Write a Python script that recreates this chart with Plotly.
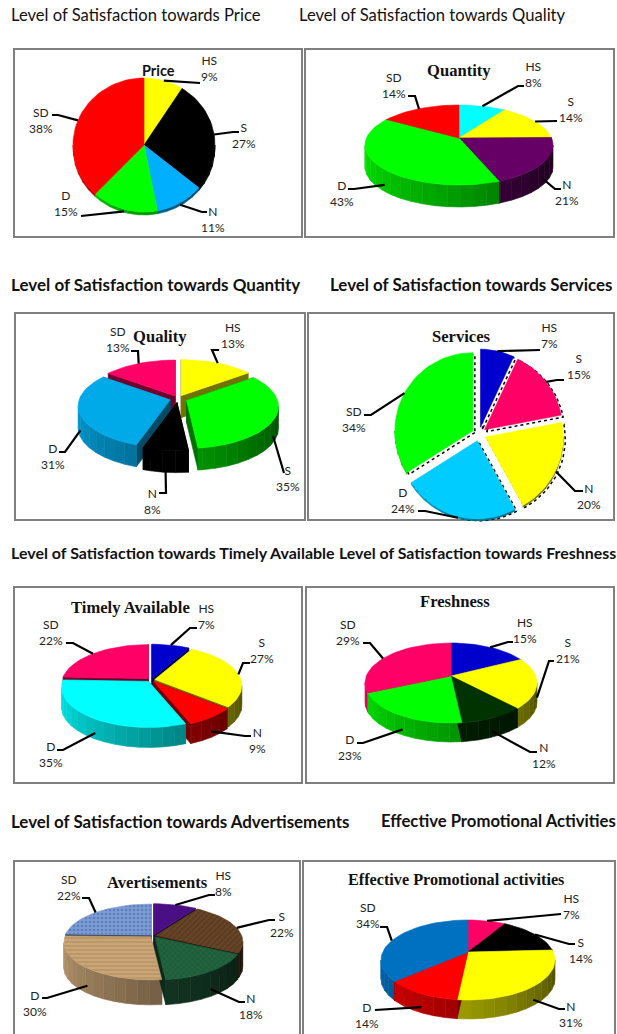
import math
import plotly.graph_objects as go

categories = ["HS", "S", "N", "D", "SD"]

price = [9, 27, 11, 15, 38]
quantity = [8, 14, 21, 43, 14]
quality = [13, 35, 8, 31, 13]
services = [7, 15, 20, 24, 34]
timely = [7, 27, 9, 35, 22]
freshness = [15, 21, 12, 23, 29]
advertisements = [8, 22, 18, 30, 22]
promotional = [7, 14, 31, 14, 34]

section_titles = [
    ("Level of Satisfaction towards Price", 9, 15, False, 16.6),
    ("Level of Satisfaction towards Quality", 297, 15, False, 16.6),
    ("Level of Satisfaction towards Quantity", 9, 284, True, 17),
    ("Level of Satisfaction towards Services", 328, 284, True, 16.9),
    ("Level of Satisfaction towards Timely Available", 9, 552, True, 16),
    ("Level of Satisfaction towards Freshness", 337, 552, True, 15.9),
    ("Level of Satisfaction towards Advertisements", 9, 821, True, 16.9),
    ("Effective Promotional Activities", 379, 821, True, 16.7),
]

frames = [(14, 49, 302, 237), (305, 49, 614, 237), (15, 313, 305, 520), (308, 313, 614, 520),
          (14, 587, 302, 783), (306, 587, 614, 783), (14, 861, 300, 1040), (303, 861, 615, 1040)]

Y, K, R, G, P = "#ffff00", "#000000", "#ff0000", "#00ff00", "#ff0066"
charts = [
    dict(title="Price", title_font=("Lato", 14.5), values=price, tx=158, ty=70, cx=144, cy=145, rx=71, ry=67, vs=0, depth=3,
         colors=[Y, K, "#00b0ff", G, R], explode=[0, 0, 0, 0, 0],
         labels=[(209, 68), (244, 135), (213, 219), (66, 203), (41, 120)],
         leads=[(196, 83, 200, 83), (233, 132, 239, 132), (202, 212, 207, 212), (87, 215, 81, 216), (58, 115, 52, 115)]),
    dict(title="Quantity", values=quantity, tx=459, ty=70, cx=459, cy=145, rx=94, ry=40, vs=-7, depth=22,
         colors=["#00ffff", Y, "#660066", G, R], explode=[0, 0, 0, 0, 0],
         labels=[(533, 74), (571, 109), (567, 192), (342, 193), (394, 85)],
         leads=[(518, 86, 524, 86), (551, 121, 557, 121), (555, 189, 561, 189), (354, 189, 348, 189), (415, 96, 408, 96)]),
    dict(title="Quality", values=quality, tx=160, ty=336, cx=178, cy=405, rx=92, ry=42, vs=-6, depth=22,
         colors=[Y, G, K, "#00aae8", P], explode=[8, 9, 8, 8, 7],
         labels=[(233, 335), (288, 478), (152, 501), (53, 456), (118, 339)],
         leads=[(212, 350, 219, 350), (284, 473, 284, 473), (166, 493, 159, 493), (65, 452, 59, 452), (138, 351, 131, 351)]),
    dict(title="Services", values=services, tx=461, ty=336, cx=479, cy=434, rx=78, ry=78, vs=0, depth=2, shadow=True,
         colors=["#0000cc", P, Y, "#00ccff", G], explode=[7, 7, 7, 7, 7],
         labels=[(549, 335), (579, 366), (589, 496), (403, 500), (354, 419)],
         leads=[(534, 350, 540, 350), (557, 380, 564, 380), (575, 491, 583, 491), (425, 511, 418, 511), (371, 415, 364, 415)]),
    dict(title="Timely Available", values=timely, tx=130, ty=607, cx=151, cy=686, rx=87, ry=40, vs=-6, depth=20,
         colors=["#0000cc", Y, R, "#00ffff", P], explode=[4, 4, 4, 4, 4],
         labels=[(206, 616), (262, 650), (257, 740), (51, 754), (51, 632)],
         leads=[(190, 628, 197, 628), (243, 663, 250, 663), (245, 736, 251, 736), (63, 750, 57, 750), (73, 643, 66, 643)]),
    dict(title="Freshness", values=freshness, tx=455, ty=601, cx=451, cy=683, rx=86, ry=40, vs=-7, depth=19,
         colors=["#0000cc", Y, "#003300", G, P], explode=[0, 0, 0, 0, 0],
         labels=[(525, 630), (568, 650), (544, 755), (350, 747), (348, 632)],
         leads=[(508, 642, 513, 642), (549, 661, 554, 661), (530, 752, 537, 752), (363, 743, 357, 743), (370, 643, 363, 643)]),
    dict(title="Avertisements", values=advertisements, tx=157, ty=882, cx=153, cy=942, rx=87, ry=37, vs=-6, depth=25,
         colors=["#4b0f85", "#5c3b20", "#1f5c3a", "#c9a577", "#7b9bd4"], explode=[3, 3, 3, 3, 3],
         patterns=[None, ("/", "#7a5a38"), ("x", "#2f7d50"), ("-", "#9a7648"), (".", "#3f5f9a")],
         labels=[(223, 883), (282, 924), (251, 1006), (35, 1003), (69, 887)],
         leads=[(209, 895, 215, 895), (269, 920, 275, 920), (239, 1002, 245, 1002), (47, 998, 42, 998), (89, 898, 82, 898)]),
    dict(title="Effective Promotional activities", title_font=("Liberation Serif", 16.2), values=promotional, tx=456, ty=880,
         cx=468, cy=960, rx=87, ry=40, vs=-8, depth=19,
         colors=[P, K, Y, R, "#0070c0"], explode=[0, 0, 0, 0, 0],
         labels=[(571, 906), (581, 950), (571, 1014), (367, 1015), (368, 915)],
         leads=[(555, 914, 561, 914), (569, 944, 575, 944), (559, 1009, 565, 1009), (381, 1010, 375, 1010), (387, 927, 380, 927)]),
]


def shade(color, f):
    r, g, b = (int(color[i:i + 2], 16) for i in (1, 3, 5))
    return f"rgb({int(r * f)},{int(g * f)},{int(b * f)})"


def poly(fig, xs, ys, color, pattern=None, line=None, width=0.6):
    t = dict(x=xs, y=ys, mode="lines", fill="toself", fillcolor=color,
             line=dict(color=line or color, width=width), hoverinfo="skip", showlegend=False)
    if pattern:
        t["fillpattern"] = dict(shape=pattern[0], fgcolor=pattern[1], bgcolor=color, size=4, solidity=0.3)
    fig.add_trace(go.Scatter(**t))


fig = go.Figure()
annotations = []
shapes = []

for x0, y0, x1, y1 in frames:
    shapes.append(dict(type="rect", x0=x0, y0=y0, x1=x1, y1=y1, xref="x", yref="y",
                       line=dict(color="#808080", width=2), fillcolor="white", layer="below"))

for text, x, y, bold, size in section_titles:
    annotations.append(dict(x=x, y=y, xref="x", yref="y", xanchor="left", yanchor="middle", showarrow=False,
                            text=f"<b>{text}</b>" if bold else text,
                            font=dict(family="Lato", size=size, color="#111111")))

for c in charts:
    cx, cy, rx, ry, vs, depth = c["cx"], c["cy"], c["rx"], c["ry"], c["vs"], c["depth"]
    total = sum(c["values"])
    ratio = ry / rx
    slices = []
    start = 0.0
    for i, v in enumerate(c["values"]):
        a0, a1 = start, start + v / total * 360
        start = a1
        mid = math.radians((a0 + a1) / 2)
        e = c["explode"][i]
        slices.append(dict(i=i, a0=a0, a1=a1, mid=mid,
                           ox=e * math.sin(mid), oy=-e * ratio * math.cos(mid)))

    def pt(s, deg):
        r = math.radians(deg)
        return cx + s["ox"] + rx * math.sin(r), cy + s["oy"] - ry * math.cos(r)

    if c.get("shadow"):
        for s in slices:
            n = max(2, int((s["a1"] - s["a0"]) / 3))
            arc = [pt(s, s["a0"] + (s["a1"] - s["a0"]) * k / n) for k in range(n + 1)]
            xs = [cx + s["ox"] + 2] + [p[0] + 2 for p in arc] + [cx + s["ox"] + 2]
            ys = [cy + s["oy"] + 2] + [p[1] + 2 for p in arc] + [cy + s["oy"] + 2]
            fig.add_trace(go.Scatter(x=xs, y=ys, mode="lines", hoverinfo="skip", showlegend=False,
                                     line=dict(color="black", width=1.5, dash="dot")))

    # side walls, back to front
    for s in sorted(slices, key=lambda q: -math.cos(q["mid"])):
        col = c["colors"][s["i"]]
        vx, vy = cx + s["ox"], cy + vs + s["oy"]
        if depth > 5:
            for a in (s["a0"], s["a1"]):
                ex, ey = pt(s, a)
                poly(fig, [vx, ex, ex, vx, vx], [vy, ey, ey + depth, vy + depth, vy], shade(col, 0.45))
        lo, hi = max(s["a0"], 90), min(s["a1"], 270)
        a = lo
        while a < hi:
            b = min(a + 8, hi)
            ax, ay = pt(s, a)
            bx, by = pt(s, b)
            f = 0.3 + 0.6 * (((a + b) / 2 - 90) / 180)
            poly(fig, [ax, bx, bx, ax, ax], [ay, by, by + depth, ay + depth, ay], shade(col, f))
            a = b

    # top faces
    for s in slices:
        col = c["colors"][s["i"]]
        n = max(2, int((s["a1"] - s["a0"]) / 3))
        arc = [pt(s, s["a0"] + (s["a1"] - s["a0"]) * k / n) for k in range(n + 1)]
        vx, vy = cx + s["ox"], cy + vs + s["oy"]
        pats = c.get("patterns")
        poly(fig, [vx] + [p[0] for p in arc] + [vx], [vy] + [p[1] for p in arc] + [vy], col,
             pattern=pats[s["i"]] if pats else None)

    # leaders and labels
    for s, (lx, ly), (ex, ey, fx, fy) in zip(slices, c["labels"], c["leads"]):
        sx, sy = pt(s, math.degrees(s["mid"]))
        if math.cos(s["mid"]) < 0:
            sy += depth * 0.7
        fig.add_trace(go.Scatter(x=[sx, ex, fx], y=[sy, ey, fy], mode="lines", hoverinfo="skip", showlegend=False,
                                 line=dict(color="black", width=2.2)))
        annotations.append(dict(x=lx, y=ly, xref="x", yref="y", showarrow=False, align="center",
                                text=f"{categories[s['i']]}<br>{c['values'][s['i']]}%",
                                font=dict(family="Lato", size=12, color="#222222")))

    fam, fsize = c.get("title_font", ("Liberation Serif", 16.6))
    annotations.append(dict(x=c["tx"], y=c["ty"], xref="x", yref="y", showarrow=False,
                            text=f"<b>{c['title']}</b>",
                            font=dict(family=fam, size=fsize, color="#111111")))

fig.update_layout(
    width=617, height=1034, margin=dict(l=0, r=0, t=0, b=0),
    paper_bgcolor="white", plot_bgcolor="white", showlegend=False,
    xaxis=dict(range=[0, 617], visible=False, fixedrange=True),
    yaxis=dict(range=[1034, 0], visible=False, fixedrange=True),
    shapes=shapes, annotations=annotations,
)

fig.write_html("out.html", post_script="document.body.style.margin='0';", config=dict(displayModeBar=False))
